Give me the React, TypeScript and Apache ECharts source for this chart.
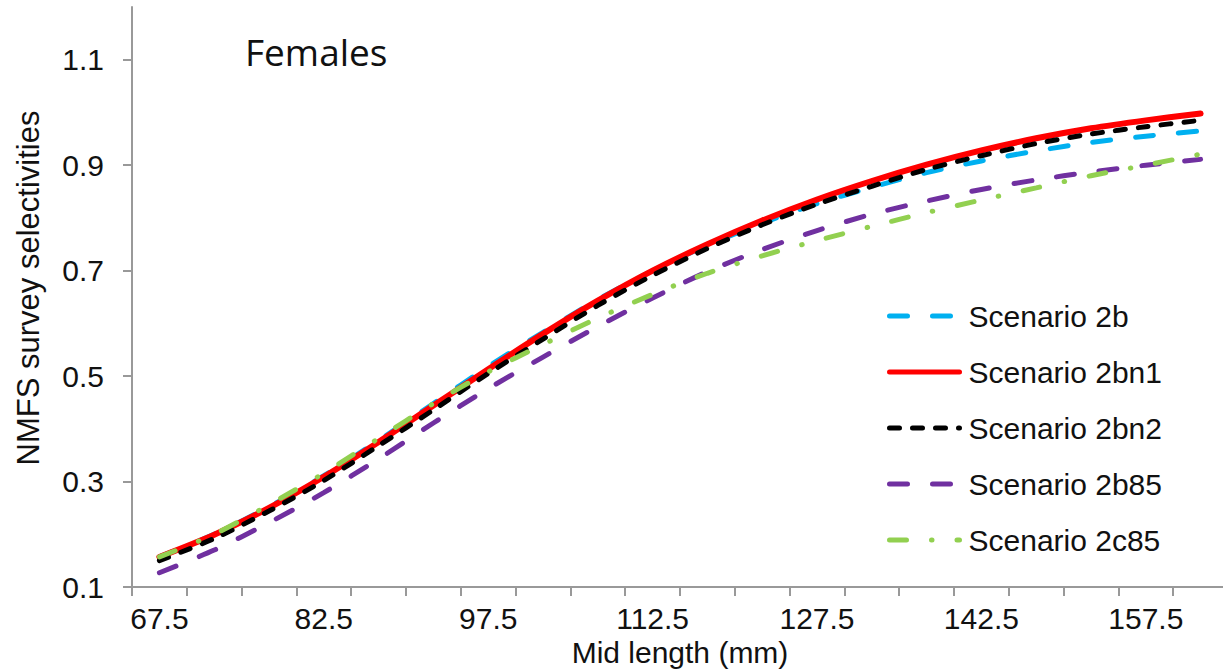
import React, { useEffect, useRef } from "react";
import * as echarts from "echarts";

const categories = [
  "67.5", "72.5", "77.5", "82.5", "87.5", "92.5", "97.5", "102.5", "107.5", "112.5",
  "117.5", "122.5", "127.5", "132.5", "137.5", "142.5", "147.5", "152.5", "157.5", "162.5",
];

const yTicks = [0.1, 0.3, 0.5, 0.7, 0.9, 1.1];

const scenario2b = [0.157, 0.2, 0.252, 0.311, 0.378, 0.448, 0.518, 0.583, 0.645, 0.7, 0.748, 0.79, 0.827, 0.858, 0.886, 0.908, 0.927, 0.943, 0.955, 0.965];
const scenario2bn1 = [0.157, 0.199, 0.25, 0.309, 0.375, 0.444, 0.513, 0.58, 0.643, 0.7, 0.75, 0.795, 0.835, 0.87, 0.901, 0.928, 0.951, 0.97, 0.985, 0.998];
const scenario2bn2 = [0.15, 0.192, 0.244, 0.302, 0.368, 0.436, 0.505, 0.57, 0.634, 0.691, 0.742, 0.787, 0.826, 0.86, 0.892, 0.918, 0.941, 0.959, 0.973, 0.985];
const scenario2b85 = [0.127, 0.17, 0.222, 0.279, 0.343, 0.411, 0.476, 0.536, 0.594, 0.648, 0.698, 0.74, 0.776, 0.807, 0.832, 0.854, 0.872, 0.887, 0.9, 0.911];
const scenario2c85 = [0.157, 0.2, 0.256, 0.316, 0.382, 0.448, 0.508, 0.56, 0.61, 0.655, 0.695, 0.728, 0.757, 0.784, 0.81, 0.834, 0.857, 0.88, 0.9, 0.921];

const FONT = "'Liberation Sans', Arial, sans-serif";

export default function App() {
  const ref = useRef<HTMLDivElement>(null);

  useEffect(() => {
    if (!ref.current) return;
    const chart = echarts.init(ref.current, undefined, { renderer: "svg" });
    const mk = (name: string, data: number[], color: string, dash: any, width: number) => ({
      name,
      type: "line",
      data,
      symbol: "none",
      showSymbol: false,
      smooth: 0.3,
      lineStyle: { color, width, type: dash, cap: "round" },
      itemStyle: { color },
    });
    chart.setOption({
      animation: false,
      textStyle: { fontFamily: FONT },
      grid: { left: 132, top: 7, width: 1096, height: 580, outerBoundsMode: "none" },
      legend: {
        orient: "vertical",
        left: 887,
        top: 301,
        padding: 0,
        itemWidth: 70,
        itemHeight: 14,
        itemGap: 26,
        itemStyle: { opacity: 0, borderWidth: 0 },
        lineStyle: { width: 5, cap: "round" },
        textStyle: { fontSize: 30, color: "#111", fontFamily: FONT, padding: [0, 0, 0, 4] },
        data: ["Scenario 2b", "Scenario 2bn1", "Scenario 2bn2", "Scenario 2b85", "Scenario 2c85"],
      },
      graphic: [
        {
          type: "text",
          left: 245,
          top: 33,
          style: { text: "Females", fontSize: 37, fontFamily: "'Open Sans', sans-serif", fill: "#111" },
        },
      ],
      xAxis: {
        type: "category",
        data: categories,
        boundaryGap: true,
        name: "Mid length (mm)",
        nameLocation: "middle",
        nameGap: 48,
        nameTextStyle: { fontSize: 30, color: "#111", fontFamily: FONT },
        axisLine: { lineStyle: { color: "#999", width: 2 } },
        axisTick: { show: true, interval: 0, length: 9, lineStyle: { color: "#999", width: 2 } },
        axisLabel: { interval: 2, fontSize: 30, color: "#111", margin: 16, fontFamily: FONT },
        splitLine: { show: false },
      },
      yAxis: {
        type: "value",
        min: 0.1,
        max: 1.2,
        name: "NMFS survey selectivities",
        nameLocation: "middle",
        nameGap: 88,
        nameTextStyle: { fontSize: 31, color: "#111", fontFamily: FONT, padding: [0, 0, 0, 18] },
        axisLine: { show: true, lineStyle: { color: "#999", width: 2 } },
        axisTick: { show: true, length: 9, customValues: yTicks, lineStyle: { color: "#999", width: 2 } },
        axisLabel: {
          customValues: yTicks,
          fontSize: 30,
          color: "#111",
          margin: 28,
          fontFamily: FONT,
          formatter: (v: number) => v.toFixed(1),
        },
        splitLine: { show: false },
      },
      series: [
        mk("Scenario 2b", scenario2b, "#00B0F0", [18, 25], 5),
        mk("Scenario 2bn1", scenario2bn1, "#FF0000", "solid", 6),
        mk("Scenario 2bn2", scenario2bn2, "#000000", [10, 13], 5),
        mk("Scenario 2b85", scenario2b85, "#7030A0", [18, 25], 5),
        mk("Scenario 2c85", scenario2c85, "#92D050", [17, 25, 0.5, 25], 5),
      ],
    });
    return () => chart.dispose();
  }, []);

  return (
    <div
      ref={ref}
      style={{ position: "fixed", left: 0, top: 0, width: 1223, height: 671, background: "#fff" }}
    />
  );
}
